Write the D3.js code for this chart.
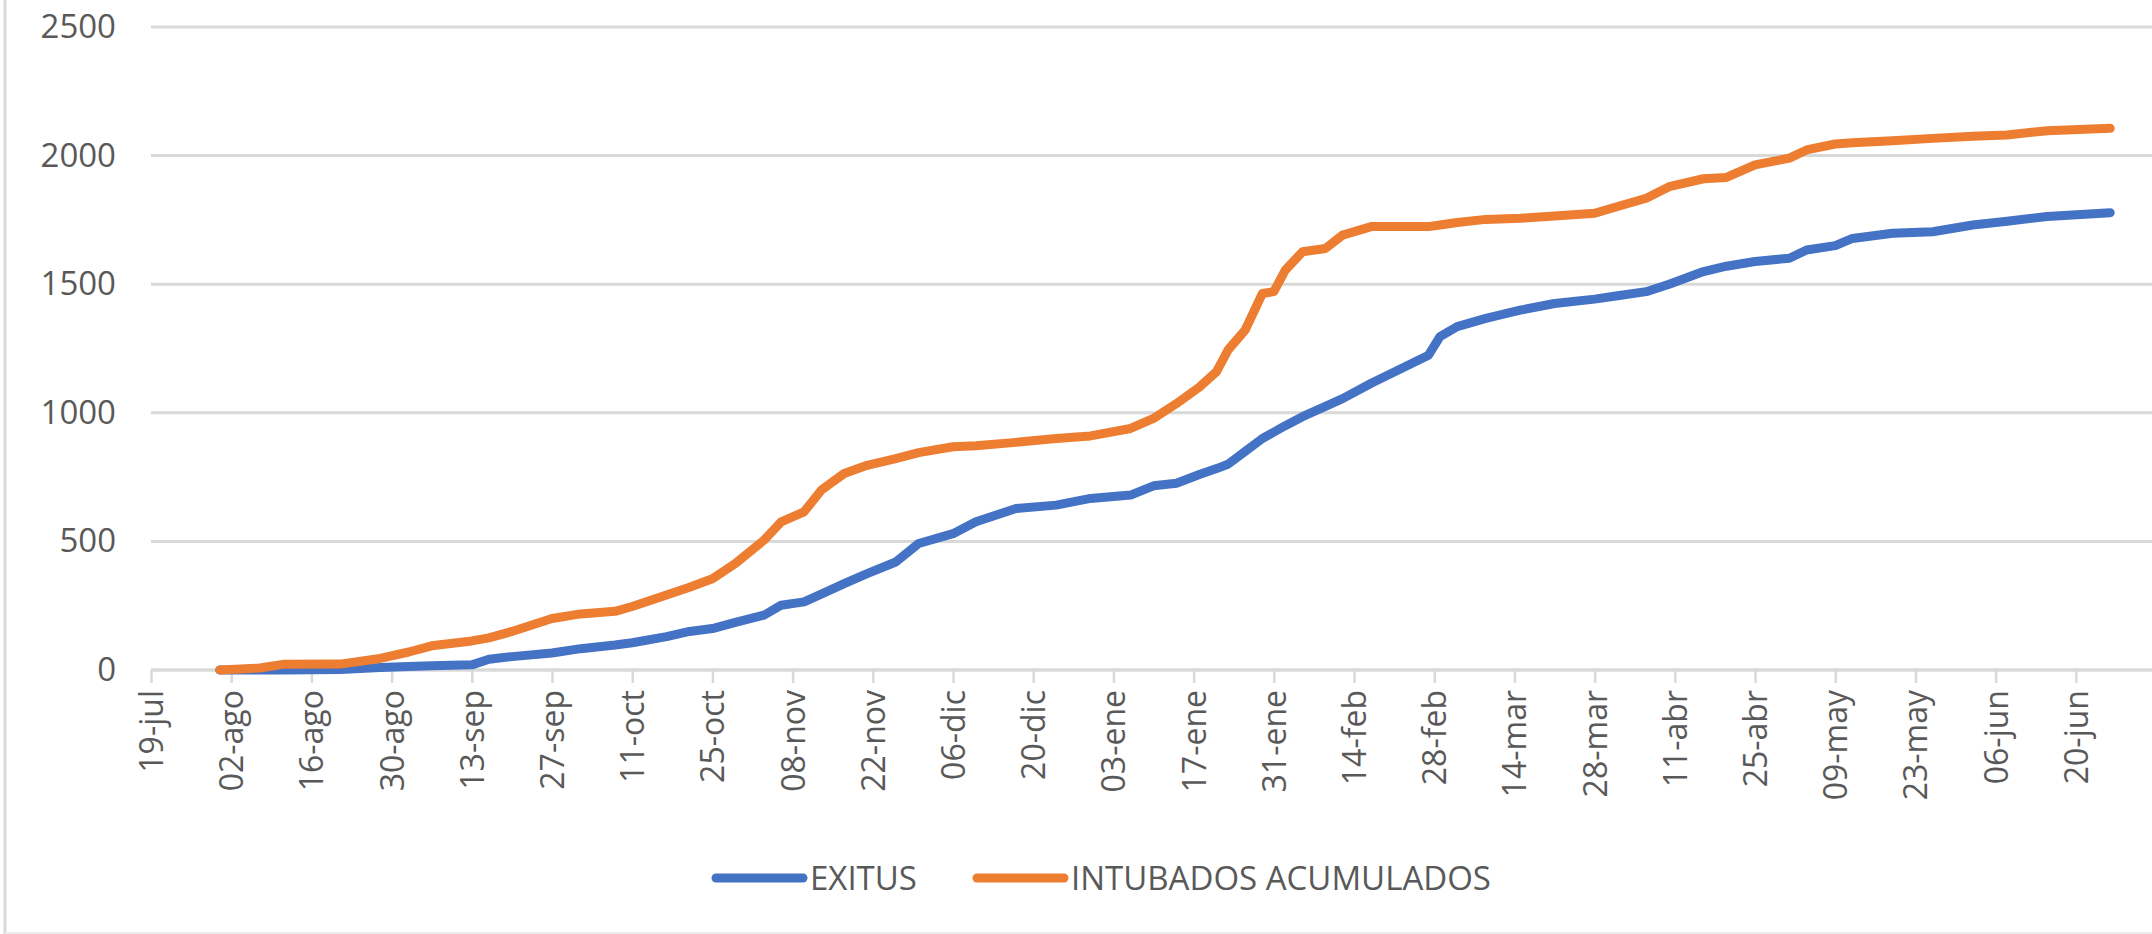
<!DOCTYPE html>
<html>
<head>
<meta charset="utf-8">
<script src="https://cdn.jsdelivr.net/npm/d3@7"></script>
<style>
  html, body { margin: 0; padding: 0; background: #fff; }
  svg { display: block; }
  text { font-family: "Open Sans", sans-serif; fill: #595959; }
</style>
</head>
<body>
<svg id="chart" width="2152" height="934"></svg>
<script>
// fechas (aprox.)
const fechas = [
    "2020-07-31", "2020-08-07", "2020-08-11", "2020-08-21", "2020-08-28", "2020-09-02",
    "2020-09-06", "2020-09-13", "2020-09-16", "2020-09-20", "2020-09-27", "2020-10-02",
    "2020-10-08", "2020-10-11", "2020-10-17", "2020-10-21", "2020-10-25", "2020-10-29",
    "2020-11-03", "2020-11-06", "2020-11-10", "2020-11-13", "2020-11-17", "2020-11-21",
    "2020-11-26", "2020-11-30", "2020-12-06", "2020-12-10", "2020-12-17", "2020-12-24",
    "2020-12-30", "2021-01-06", "2021-01-10", "2021-01-14", "2021-01-18", "2021-01-21",
    "2021-01-23", "2021-01-26", "2021-01-29", "2021-01-31", "2021-02-02", "2021-02-05",
    "2021-02-09", "2021-02-12", "2021-02-17", "2021-02-27", "2021-03-01", "2021-03-04",
    "2021-03-09", "2021-03-15", "2021-03-21", "2021-03-28", "2021-04-01", "2021-04-06",
    "2021-04-10", "2021-04-16", "2021-04-20", "2021-04-25", "2021-05-01", "2021-05-04",
    "2021-05-09", "2021-05-12", "2021-05-19", "2021-05-26", "2021-06-02", "2021-06-08",
    "2021-06-15", "2021-06-26"
];

const exitus = [
    0, 0, 0, 2, 10, 14,
    17, 20, 42, 52, 66, 83,
    97, 106, 130, 150, 161, 185,
    213, 252, 265, 295, 336, 375,
    420, 492, 530, 576, 628, 641,
    667, 680, 716, 726, 760, 783,
    800, 850, 900, 925, 950, 985,
    1025, 1055, 1115, 1224, 1296, 1335,
    1367, 1399, 1425, 1442, 1455, 1471,
    1500, 1549, 1570, 1588, 1601, 1633,
    1650, 1678, 1698, 1704, 1730, 1745,
    1763, 1778
];

const intubados = [
    0, 8, 22, 23, 45, 70,
    94, 113, 125, 150, 200, 218,
    228, 247, 292, 322, 355, 414,
    505, 576, 615, 699, 764, 796,
    822, 845, 868, 872, 885, 900,
    910, 939, 978, 1036, 1100, 1160,
    1244, 1322, 1464, 1471, 1555, 1626,
    1639, 1691, 1724, 1724, 1730, 1740,
    1752, 1756, 1765, 1776, 1802, 1834,
    1879, 1910, 1915, 1964, 1990, 2022,
    2045, 2050, 2058, 2067, 2075, 2080,
    2097, 2106
];

const etiquetasX = [
    "19-jul", "02-ago", "16-ago", "30-ago", "13-sep", "27-sep", "11-oct", "25-oct",
    "08-nov", "22-nov", "06-dic", "20-dic", "03-ene", "17-ene", "31-ene", "14-feb",
    "28-feb", "14-mar", "28-mar", "11-abr", "25-abr", "09-may", "23-may", "06-jun", "20-jun"
];
const valoresY = [0, 500, 1000, 1500, 2000, 2500];

const series = [
    {nombre: "EXITUS", valores: exitus, color: "#4472C4"},
    {nombre: "INTUBADOS ACUMULADOS", valores: intubados, color: "#ED7D31"}
];

const parseFecha = d3.utcParse("%Y-%m-%d");
const inicio = parseFecha("2020-07-19");
const fin = d3.utcHour.offset(parseFecha("2021-07-03"), 7);
const ticksX = etiquetasX.map((e, i) => d3.utcDay.offset(inicio, 14 * i));

const svg = d3.select("#chart");
const margin = {left: 151, right: 0, top: 27, bottom: 264};
const width = +svg.attr("width");
const height = +svg.attr("height");

const x = d3.scaleUtc().domain([inicio, fin]).range([margin.left, width - margin.right]);
const y = d3.scaleLinear().domain([0, 2500]).range([height - margin.bottom, margin.top]);

// marco del recorte
svg.append("line")
    .attr("x1", 5).attr("x2", 5).attr("y1", 0).attr("y2", height)
    .style("stroke", "#d9d9d9").style("stroke-width", 3);
svg.append("line")
    .attr("x1", 5).attr("x2", width).attr("y1", height - 1).attr("y2", height - 1)
    .style("stroke", "#ececec").style("stroke-width", 2);

// lineas de division
svg.append("g")
    .attr("class", "grid")
    .selectAll("line")
    .data(valoresY)
    .join("line")
    .attr("x1", margin.left).attr("x2", width)
    .attr("y1", d => y(d)).attr("y2", d => y(d))
    .style("stroke", "#d9d9d9")
    .style("stroke-width", 3);

// eje Y
const yAxis = svg.append("g")
    .attr("transform", "translate(116,0)")
    .call(d3.axisLeft(y).tickValues(valoresY).tickFormat(d3.format("d")).tickSize(0).tickPadding(0));
yAxis.select(".domain").remove();
yAxis.selectAll("text")
    .style("font-size", "33px")
    .style("fill", "#595959")
    .style("font-family", "'Open Sans', sans-serif");

// eje X
const xAxis = svg.append("g")
    .attr("transform", "translate(0," + y(0) + ")")
    .call(d3.axisBottom(x).tickValues(ticksX).tickFormat((d, i) => etiquetasX[i]).tickSize(13));
xAxis.select(".domain")
    .attr("d", "M" + margin.left + ",0H" + width)
    .style("stroke", "#d9d9d9").style("stroke-width", 3);
xAxis.selectAll(".tick line")
    .style("stroke", "#d9d9d9").style("stroke-width", 2.5);
xAxis.selectAll("text")
    .attr("transform", "rotate(-90)")
    .attr("x", -20)
    .attr("y", 0)
    .attr("dy", "0.36em")
    .style("text-anchor", "end")
    .style("font-size", "32px")
    .style("fill", "#595959")
    .style("font-family", "'Open Sans', sans-serif");

// series
const linea = d3.line()
    .x((d, i) => x(parseFecha(fechas[i])))
    .y(d => y(d));

svg.append("g")
    .selectAll("path")
    .data(series)
    .join("path")
    .attr("d", d => linea(d.valores))
    .style("fill", "none")
    .style("stroke", d => d.color)
    .style("stroke-width", 9)
    .style("stroke-linejoin", "round")
    .style("stroke-linecap", "round");

// leyenda
const legendY = 878;
let lx = 716;
const legend = svg.append("g").attr("class", "legend");
series.forEach(function (s) {
    legend.append("line")
        .attr("x1", lx).attr("x2", lx + 87)
        .attr("y1", legendY).attr("y2", legendY)
        .style("stroke", s.color)
        .style("stroke-width", 9)
        .style("stroke-linecap", "round");
    const t = legend.append("text")
        .attr("x", lx + 94)
        .attr("y", legendY)
        .attr("dy", "0.36em")
        .style("font-size", "33px")
        .text(s.nombre);
    lx = lx + 94 + t.node().getComputedTextLength() + 60;
});
</script>
</body>
</html>
